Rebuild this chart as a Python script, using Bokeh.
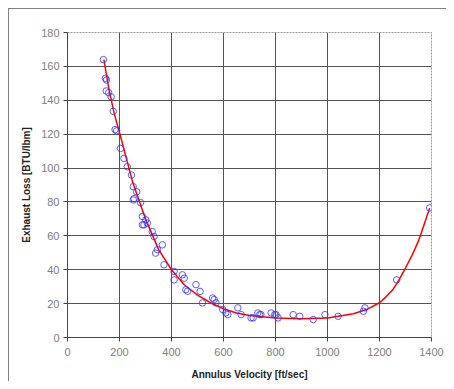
from bokeh.plotting import figure
from bokeh.models import Range1d, FixedTicker
from bokeh.embed import file_html
from bokeh.resources import INLINE

# scatter data: annulus velocity [ft/sec] vs exhaust loss [BTU/lbm]
velocity = [138, 146, 150, 149, 158, 168, 176, 183, 189, 204, 217, 230,
            246, 253, 256, 266, 253, 281, 288, 301, 288, 307, 294, 326,
            333, 346, 339, 365, 371, 410, 410, 442, 449, 455, 462, 494,
            510, 519, 558, 571, 564, 597, 609, 617, 655, 668, 706, 714,
            732, 739, 744, 783, 797, 802, 810, 868, 893, 945, 990, 1041,
            1138, 1144, 1266, 1393]
loss = [164, 153, 152, 145.5, 144.5, 142, 133.5, 122.7, 122, 111.6, 105.7, 100.8,
        95.9, 89, 82, 86, 81.2, 79.6, 71.4, 69.4, 66.5, 67.5, 66.5, 62.5,
        59.6, 51.8, 49.8, 54.7, 42.9, 39, 34, 37, 35, 28.2, 27.3, 31.2,
        27.2, 20.4, 23.3, 20.4, 22.4, 16.5, 14.5, 13.5, 17.5, 13.5, 11.6, 11.6,
        14.5, 13.5, 13.5, 14.5, 13.5, 13.5, 11.6, 13.5, 12.5, 10.6, 13.5, 12.5,
        15.5, 17.5, 34, 76.5]

# trend line
trend_v = [140, 160, 180, 200, 250, 300, 350, 400, 450, 500, 550, 600, 650,
           700, 800, 900, 1000, 1100, 1150, 1200, 1225, 1250, 1275, 1300,
           1325, 1350, 1370, 1393]
trend_l = [164, 146, 132, 121, 92, 70, 52, 40, 31, 25, 20.5, 17, 14.5,
           13, 11.5, 11, 11.5, 14, 16.5, 20.5, 24, 28, 34, 41,
           48.5, 57, 66, 76.5]

x_ticks = [0, 200, 400, 600, 800, 1000, 1200, 1400]
y_ticks = [0, 20, 40, 60, 80, 100, 120, 140, 160, 180]

p = figure(width=438, height=373, output_backend="svg", toolbar_location=None,
           x_range=Range1d(0, 1400), y_range=Range1d(0, 180),
           min_border_left=58, min_border_top=23, min_border_right=16,
           min_border_bottom=44)
p.styles = {"margin-top": "8px", "margin-left": "8px",
            "border-top": "1px solid #808080", "border-left": "1px solid #808080"}
p.background_fill_color = "white"
p.border_fill_color = "white"
p.outline_line_color = "#999999"
p.outline_line_dash = "2 1"

for ax, ticks in ((p.xaxis, x_ticks), (p.yaxis, y_ticks)):
    ax.ticker = FixedTicker(ticks=ticks)
    ax.axis_line_color = "#444444"
    ax.major_tick_line_color = "#444444"
    ax.major_tick_out = 4
    ax.major_tick_in = 0
    ax.minor_tick_line_color = None
    ax.major_label_text_font = "Liberation Sans"
    ax.major_label_text_font_size = "11px"
    ax.major_label_text_color = "#808080"
    ax.axis_label_text_font = "Liberation Sans"
    ax.axis_label_text_font_size = "10px"
    ax.axis_label_text_font_style = "bold"
    ax.axis_label_text_color = "#222222"

p.xaxis.axis_label = "Annulus Velocity [ft/sec]"
p.yaxis.axis_label = "Exhaust Loss [BTU/lbm]"
p.xaxis.major_label_standoff = 6
p.yaxis.major_label_standoff = 4
p.xaxis.axis_label_standoff = 10
p.yaxis.axis_label_standoff = 6

for g in (p.xgrid, p.ygrid):
    g.grid_line_color = "#555555"
    g.grid_line_width = 1

p.line(trend_v, trend_l, line_color="red", line_width=1.5)
p.scatter(velocity, loss, marker="circle", size=6.5, fill_color=None,
          line_color="#3333ff", line_width=1, line_alpha=0.8)

open("out.html", "w").write(file_html(p, INLINE))
